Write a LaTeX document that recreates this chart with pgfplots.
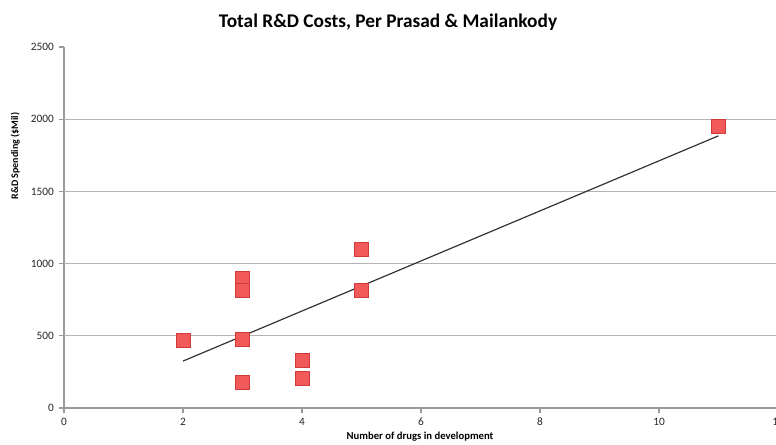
\documentclass[border=0pt]{standalone}
\usepackage{fontspec}
\setmainfont{Carlito}
\usepackage{pgfplots}
\pgfplotsset{compat=1.18}
\definecolor{gridgray}{HTML}{B4B4B4}
\definecolor{axisgray}{HTML}{9A9A9A}
\definecolor{mkfill}{HTML}{F25A5A}
\definecolor{mkdraw}{HTML}{D03A3A}
\begin{document}
\begin{tikzpicture}
\begin{axis}[
  at={(48pt,27pt)}, anchor=south west,
  scale only axis, width=535.5pt, height=270.75pt,
  xmin=0, xmax=12, ymin=0, ymax=2500,
  xtick={0,2,...,12}, ytick={0,500,...,2500},
  axis x line=bottom, axis y line=left,
  axis line style={draw=axisgray, line width=0.8pt, -},
  tick style={draw=axisgray, line width=0.8pt},
  tick align=outside, major tick length=4pt,
  extra y ticks={500,1000,1500,2000},
  extra y tick labels={},
  extra y tick style={grid=major, major tick length=0pt, grid style={draw=gridgray, line width=0.8pt}},
  /pgf/number format/assume math mode=true,
  /pgf/number format/set thousands separator={},
  ticklabel style={font=\fontsize{8.5}{10}\selectfont, text=black!85},
  clip=false,
]
\addplot[only marks, mark=square*, mark size=5.3pt,
  mark options={fill=mkfill, draw=mkdraw, line width=0.5pt, rounded corners=1.2pt}]
  coordinates {(2,471) (3,898) (3,817) (3,478) (3,175) (4,328) (4,206) (5,1099) (5,817) (11,1948)};
\addplot[black!80, line width=0.9pt] coordinates {(2,325) (11,1885)};
\end{axis}
\node[anchor=base, font=\fontsize{14.5}{17}\selectfont\bfseries] at (291pt,312.5pt) {Total R\&D Costs, Per Prasad \& Mailankody};
\node[rotate=90, font=\fontsize{7.5}{9}\selectfont\bfseries] at (11.5pt,216pt) {R\&D Spending (\$Mil)};
\node[font=\fontsize{8}{10}\selectfont\bfseries] at (315pt,5.5pt) {Number of drugs in development};
\pgfresetboundingbox
\useasboundingbox (0,0) rectangle (582pt,333pt);
\end{tikzpicture}
\end{document}
